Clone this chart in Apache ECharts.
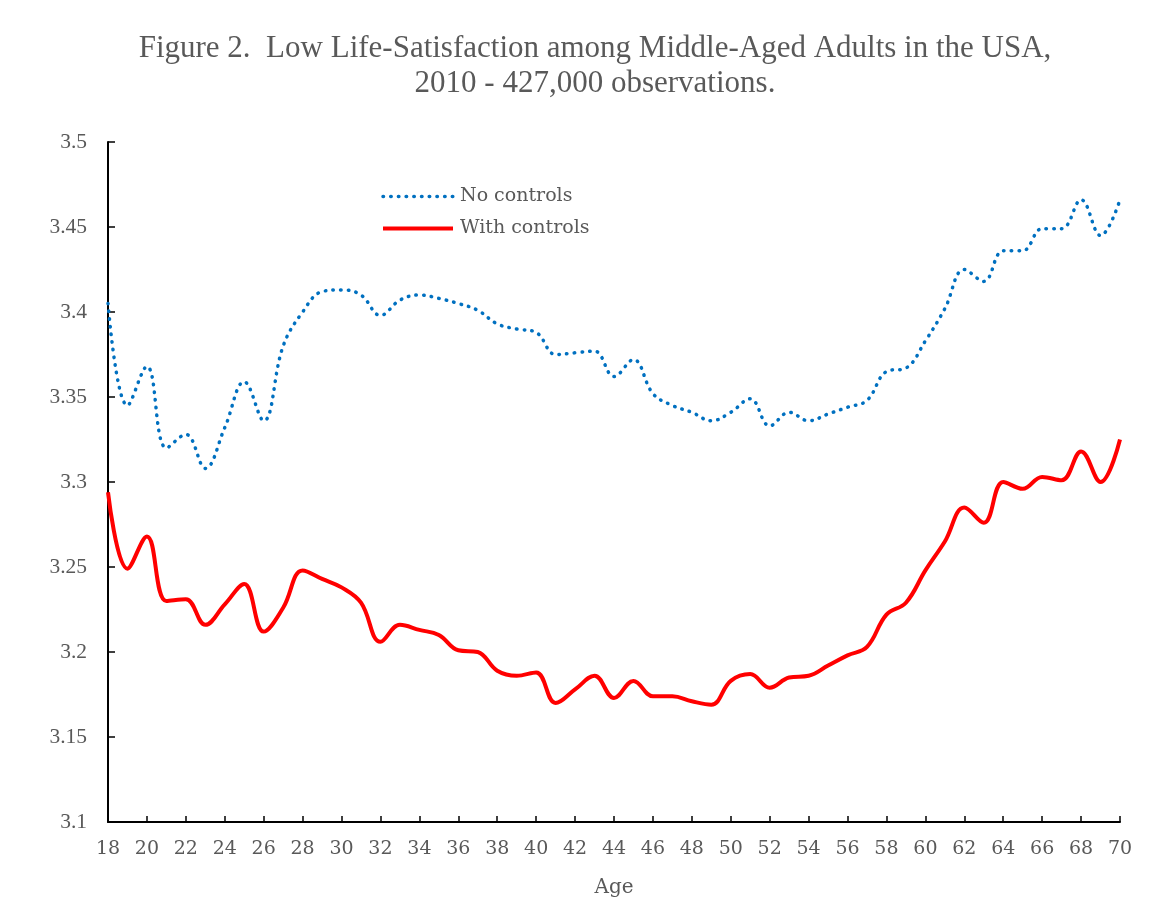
<!DOCTYPE html>
<html>
<head>
<meta charset="utf-8">
<title>Low Life-Satisfaction among Middle-Aged Adults</title>
<script src="https://cdn.jsdelivr.net/npm/echarts@6/dist/echarts.min.js"></script>
<style>
  html, body { margin: 0; padding: 0; background: #fff; }
  #chart { width: 1170px; height: 914px; }
</style>
</head>
<body>
<div id="chart"></div>
<script>
// ages 18..70
const ages = [18, 19, 20, 21, 22, 23, 24, 25, 26, 27, 28, 29, 30, 31, 32, 33, 34, 35, 36, 37, 38, 39, 40, 41, 42, 43, 44,
  45, 46, 47, 48, 49, 50, 51, 52, 53, 54, 55, 56, 57, 58, 59, 60, 61, 62, 63, 64, 65, 66, 67, 68, 69, 70];

const noControls = [3.405, 3.345, 3.368, 3.320, 3.328, 3.308, 3.332, 3.359, 3.336, 3.380, 3.400, 3.412, 3.413, 3.410,
  3.398, 3.407, 3.410, 3.408, 3.405, 3.401, 3.393, 3.390, 3.388, 3.375, 3.376, 3.377, 3.362, 3.372, 3.352, 3.345,
  3.341, 3.336, 3.341, 3.349, 3.333, 3.341, 3.336, 3.340, 3.344, 3.348, 3.365, 3.367, 3.383, 3.402, 3.425, 3.418,
  3.436, 3.436, 3.449, 3.449, 3.466, 3.445, 3.466];

const withControls = [3.294, 3.249, 3.268, 3.230, 3.231, 3.216, 3.228, 3.240, 3.212, 3.226, 3.248, 3.243, 3.238, 3.229,
  3.206, 3.216, 3.213, 3.210, 3.201, 3.200, 3.189, 3.186, 3.188, 3.170, 3.178, 3.186, 3.173, 3.183, 3.174, 3.174,
  3.171, 3.169, 3.183, 3.187, 3.179, 3.185, 3.186, 3.192, 3.198, 3.203, 3.222, 3.229, 3.248, 3.265, 3.285, 3.276,
  3.300, 3.296, 3.303, 3.301, 3.318, 3.300, 3.325];

const titleLines = ["Figure 2.  Low Life-Satisfaction among Middle-Aged Adults in the USA,", "2010 - 427,000 observations."];

const textGray = "#595959";
const cambriaLike = "DejaVu Serif";

const chart = echarts.init(document.getElementById("chart"));

const options = {
  animation: false,
  backgroundColor: "#fff",
  title: {
    text: titleLines.join("\n"),
    left: 590,
    top: 26,
    textAlign: "center",
    textStyle: {
      fontFamily: "Liberation Serif",
      fontSize: 31,
      fontWeight: "normal",
      color: textGray,
      lineHeight: 35,
    },
  },
  legend: {
    orient: "vertical",
    left: 376,
    top: 182,
    itemWidth: 70,
    itemHeight: 18,
    itemGap: 13,
    itemStyle: { opacity: 0 },
    textStyle: {
      fontFamily: cambriaLike,
      fontSize: 19,
      color: textGray,
      padding: [0, 0, 0, 2],
    },
    data: [
      { name: "No controls", lineStyle: { width: 3.5 } },
      { name: "With controls", lineStyle: { width: 4 } },
    ],
  },
  grid: {
    left: 108,
    right: 50,
    top: 142,
    bottom: 92,
  },
  xAxis: {
    type: "value",
    min: 18,
    max: 70,
    interval: 2,
    name: "Age",
    nameLocation: "middle",
    nameGap: 56,
    nameTextStyle: {
      fontFamily: cambriaLike,
      fontSize: 20,
      color: textGray,
    },
    splitLine: { show: false },
    axisLine: { lineStyle: { color: "#000", width: 2 } },
    axisTick: { inside: true, length: 6, lineStyle: { color: "#000", width: 1.5 } },
    axisLabel: {
      margin: 18,
      fontFamily: cambriaLike,
      fontSize: 19,
      color: textGray,
    },
  },
  yAxis: {
    type: "value",
    min: 3.1,
    max: 3.5,
    interval: 0.05,
    splitLine: { show: false },
    axisLine: { show: true, lineStyle: { color: "#000", width: 2 } },
    axisTick: { show: true, inside: true, length: 7, lineStyle: { color: "#000", width: 1.5 } },
    axisLabel: {
      margin: 21,
      fontFamily: "Liberation Serif",
      fontSize: 21.5,
      color: textGray,
      formatter: (v) => String(Math.round(v * 100) / 100),
    },
  },
  series: [
    {
      name: "No controls",
      type: "line",
      smooth: 0.4,
      symbol: "none",
      data: ages.map((a, i) => [a, noControls[i]]),
      itemStyle: { color: "#0070C0" },
      lineStyle: { color: "#0070C0", width: 3.5, type: [0.5, 7.2], cap: "round" },
    },
    {
      name: "With controls",
      type: "line",
      smooth: 0.4,
      symbol: "none",
      data: ages.map((a, i) => [a, withControls[i]]),
      itemStyle: { color: "#FF0000" },
      lineStyle: { color: "#FF0000", width: 4 },
    },
  ],
};

chart.setOption(options);
</script>
</body>
</html>
